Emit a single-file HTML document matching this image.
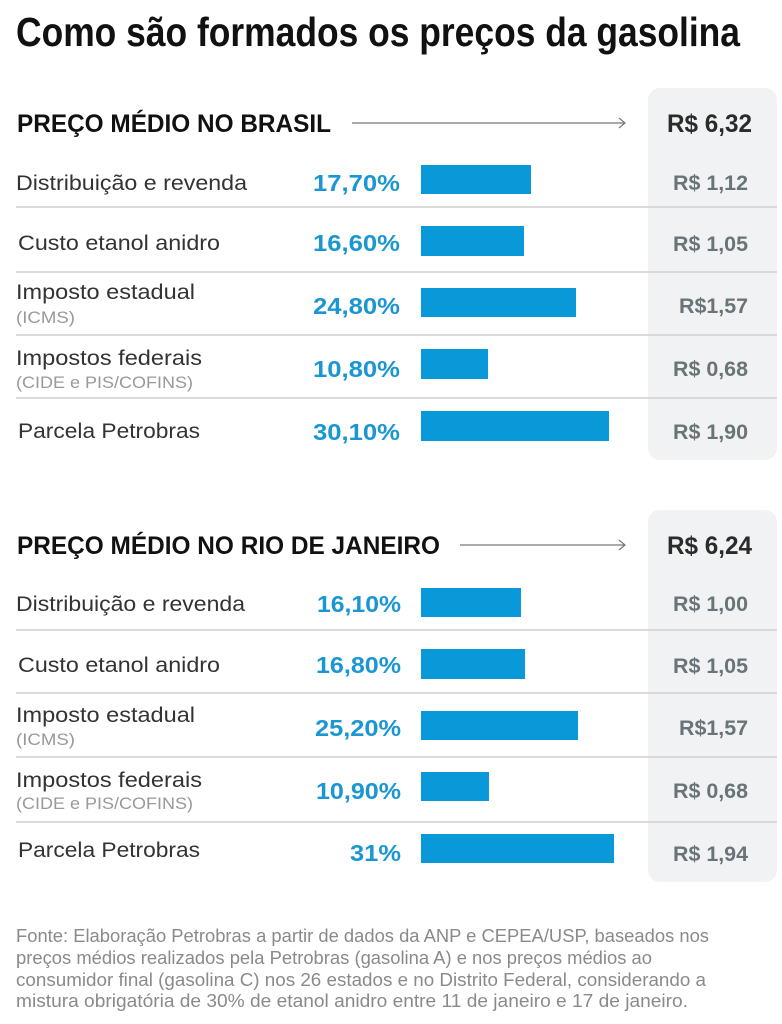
<!DOCTYPE html>
<html><head><meta charset="utf-8"><style>
html,body{margin:0;padding:0;background:#fff;width:782px;height:1024px;overflow:hidden}
svg{display:block}
text{font-family:"Liberation Sans","DejaVu Sans",sans-serif}
.t{font-weight:bold;fill:#111}
.h{font-weight:bold;fill:#111;font-size:25px}
.tot{font-weight:bold;fill:#2b2b2b;font-size:25px}
.lab{fill:#333;font-size:21px}
.sub{fill:#999;font-size:17px}
.pct{fill:#1a96d3;font-weight:bold;font-size:23px}
.val{fill:#6a7478;font-weight:bold;font-size:21px}
.bar{fill:#0a99d8}
.sep{stroke:#cfcfcf;stroke-width:1.5}
.foot{fill:#8a8a8a;font-size:18px}
</style></head><body>
<svg width="782" height="1024" viewBox="0 0 782 1024" xmlns="http://www.w3.org/2000/svg">
<rect width="782" height="1024" fill="#fff"/>
<text class="t" x="16" y="46" font-size="41" textLength="724" lengthAdjust="spacingAndGlyphs">Como são formados os preços da gasolina</text>

<!-- panels -->
<rect x="648" y="88" width="129" height="372" rx="12" fill="#f1f2f3"/>
<rect x="648" y="510" width="129" height="372" rx="12" fill="#f1f2f3"/>

<!-- Section 1 -->
<text class="h" x="17" y="132" textLength="314" lengthAdjust="spacingAndGlyphs">PREÇO MÉDIO NO BRASIL</text>
<line x1="352" y1="123" x2="625" y2="123" stroke="#777" stroke-width="1.2"/>
<polyline points="619,118 625,123 619,128" fill="none" stroke="#777" stroke-width="1.2"/>
<text class="tot" x="667" y="132" textLength="85" lengthAdjust="spacingAndGlyphs">R$ 6,32</text>

<text class="lab" x="16" y="190" textLength="231" lengthAdjust="spacingAndGlyphs">Distribuição e revenda</text>
<text class="pct" x="400" y="191" text-anchor="end" textLength="87" lengthAdjust="spacingAndGlyphs">17,70%</text>
<rect class="bar" x="421" y="165" width="110" height="29"/>
<text class="val" x="748" y="190" text-anchor="end" textLength="75" lengthAdjust="spacingAndGlyphs">R$ 1,12</text>
<line class="sep" x1="16" y1="207" x2="777" y2="207"/>

<text class="lab" x="18" y="250" textLength="202" lengthAdjust="spacingAndGlyphs">Custo etanol anidro</text>
<text class="pct" x="400" y="251" text-anchor="end" textLength="87" lengthAdjust="spacingAndGlyphs">16,60%</text>
<rect class="bar" x="421" y="226" width="103" height="30"/>
<text class="val" x="748" y="251" text-anchor="end" textLength="75" lengthAdjust="spacingAndGlyphs">R$ 1,05</text>
<line class="sep" x1="16" y1="272" x2="777" y2="272"/>

<text class="lab" x="16" y="299" textLength="179" lengthAdjust="spacingAndGlyphs">Imposto estadual</text>
<text class="sub" x="16" y="323" textLength="59" lengthAdjust="spacingAndGlyphs">(ICMS)</text>
<text class="pct" x="400" y="314" text-anchor="end" textLength="87" lengthAdjust="spacingAndGlyphs">24,80%</text>
<rect class="bar" x="421" y="288" width="155" height="29"/>
<text class="val" x="748" y="313" text-anchor="end" textLength="69" lengthAdjust="spacingAndGlyphs">R$1,57</text>
<line class="sep" x1="16" y1="335" x2="777" y2="335"/>

<text class="lab" x="16" y="365" textLength="186" lengthAdjust="spacingAndGlyphs">Impostos federais</text>
<text class="sub" x="16" y="388" textLength="177" lengthAdjust="spacingAndGlyphs">(CIDE e PIS/COFINS)</text>
<text class="pct" x="400" y="377" text-anchor="end" textLength="87" lengthAdjust="spacingAndGlyphs">10,80%</text>
<rect class="bar" x="421" y="349" width="67" height="30"/>
<text class="val" x="748" y="376" text-anchor="end" textLength="75" lengthAdjust="spacingAndGlyphs">R$ 0,68</text>
<line class="sep" x1="16" y1="398" x2="777" y2="398"/>

<text class="lab" x="18" y="438" textLength="182" lengthAdjust="spacingAndGlyphs">Parcela Petrobras</text>
<text class="pct" x="400" y="440" text-anchor="end" textLength="87" lengthAdjust="spacingAndGlyphs">30,10%</text>
<rect class="bar" x="421" y="411" width="188" height="30"/>
<text class="val" x="748" y="439" text-anchor="end" textLength="75" lengthAdjust="spacingAndGlyphs">R$ 1,90</text>

<!-- Section 2 -->
<text class="h" x="17" y="554" textLength="423" lengthAdjust="spacingAndGlyphs">PREÇO MÉDIO NO RIO DE JANEIRO</text>
<line x1="460" y1="545" x2="625" y2="545" stroke="#777" stroke-width="1.2"/>
<polyline points="619,540 625,545 619,550" fill="none" stroke="#777" stroke-width="1.2"/>
<text class="tot" x="667" y="554" textLength="85" lengthAdjust="spacingAndGlyphs">R$ 6,24</text>

<text class="lab" x="16" y="611" textLength="229" lengthAdjust="spacingAndGlyphs">Distribuição e revenda</text>
<text class="pct" x="401" y="612" text-anchor="end" textLength="84" lengthAdjust="spacingAndGlyphs">16,10%</text>
<rect class="bar" x="421" y="588" width="100" height="29"/>
<text class="val" x="748" y="611" text-anchor="end" textLength="75" lengthAdjust="spacingAndGlyphs">R$ 1,00</text>
<line class="sep" x1="16" y1="630" x2="777" y2="630"/>

<text class="lab" x="18" y="672" textLength="202" lengthAdjust="spacingAndGlyphs">Custo etanol anidro</text>
<text class="pct" x="401" y="673" text-anchor="end" textLength="85" lengthAdjust="spacingAndGlyphs">16,80%</text>
<rect class="bar" x="421" y="649" width="104" height="30"/>
<text class="val" x="748" y="673" text-anchor="end" textLength="75" lengthAdjust="spacingAndGlyphs">R$ 1,05</text>
<line class="sep" x1="16" y1="693" x2="777" y2="693"/>

<text class="lab" x="16" y="722" textLength="179" lengthAdjust="spacingAndGlyphs">Imposto estadual</text>
<text class="sub" x="16" y="745" textLength="59" lengthAdjust="spacingAndGlyphs">(ICMS)</text>
<text class="pct" x="401" y="736" text-anchor="end" textLength="86" lengthAdjust="spacingAndGlyphs">25,20%</text>
<rect class="bar" x="421" y="711" width="157" height="29"/>
<text class="val" x="748" y="735" text-anchor="end" textLength="69" lengthAdjust="spacingAndGlyphs">R$1,57</text>
<line class="sep" x1="16" y1="757" x2="777" y2="757"/>

<text class="lab" x="16" y="787" textLength="186" lengthAdjust="spacingAndGlyphs">Impostos federais</text>
<text class="sub" x="16" y="809" textLength="177" lengthAdjust="spacingAndGlyphs">(CIDE e PIS/COFINS)</text>
<text class="pct" x="401" y="799" text-anchor="end" textLength="85" lengthAdjust="spacingAndGlyphs">10,90%</text>
<rect class="bar" x="421" y="772" width="68" height="29"/>
<text class="val" x="748" y="798" text-anchor="end" textLength="75" lengthAdjust="spacingAndGlyphs">R$ 0,68</text>
<line class="sep" x1="16" y1="822" x2="777" y2="822"/>

<text class="lab" x="18" y="857" textLength="182" lengthAdjust="spacingAndGlyphs">Parcela Petrobras</text>
<text class="pct" x="401" y="861" text-anchor="end" textLength="51" lengthAdjust="spacingAndGlyphs">31%</text>
<rect class="bar" x="421" y="834" width="193" height="29"/>
<text class="val" x="748" y="861" text-anchor="end" textLength="75" lengthAdjust="spacingAndGlyphs">R$ 1,94</text>

<!-- Footer -->
<text class="foot" x="16" y="942" textLength="693" lengthAdjust="spacingAndGlyphs">Fonte: Elaboração Petrobras a partir de dados da ANP e CEPEA/USP, baseados nos</text>
<text class="foot" x="16" y="964" textLength="636" lengthAdjust="spacingAndGlyphs">preços médios realizados pela Petrobras (gasolina A) e nos preços médios ao</text>
<text class="foot" x="16" y="986" textLength="690" lengthAdjust="spacingAndGlyphs">consumidor final (gasolina C) nos 26 estados e no Distrito Federal, considerando a</text>
<text class="foot" x="16" y="1007" textLength="672" lengthAdjust="spacingAndGlyphs">mistura obrigatória de 30% de etanol anidro entre 11 de janeiro e 17 de janeiro.</text>
</svg>
</body></html>
